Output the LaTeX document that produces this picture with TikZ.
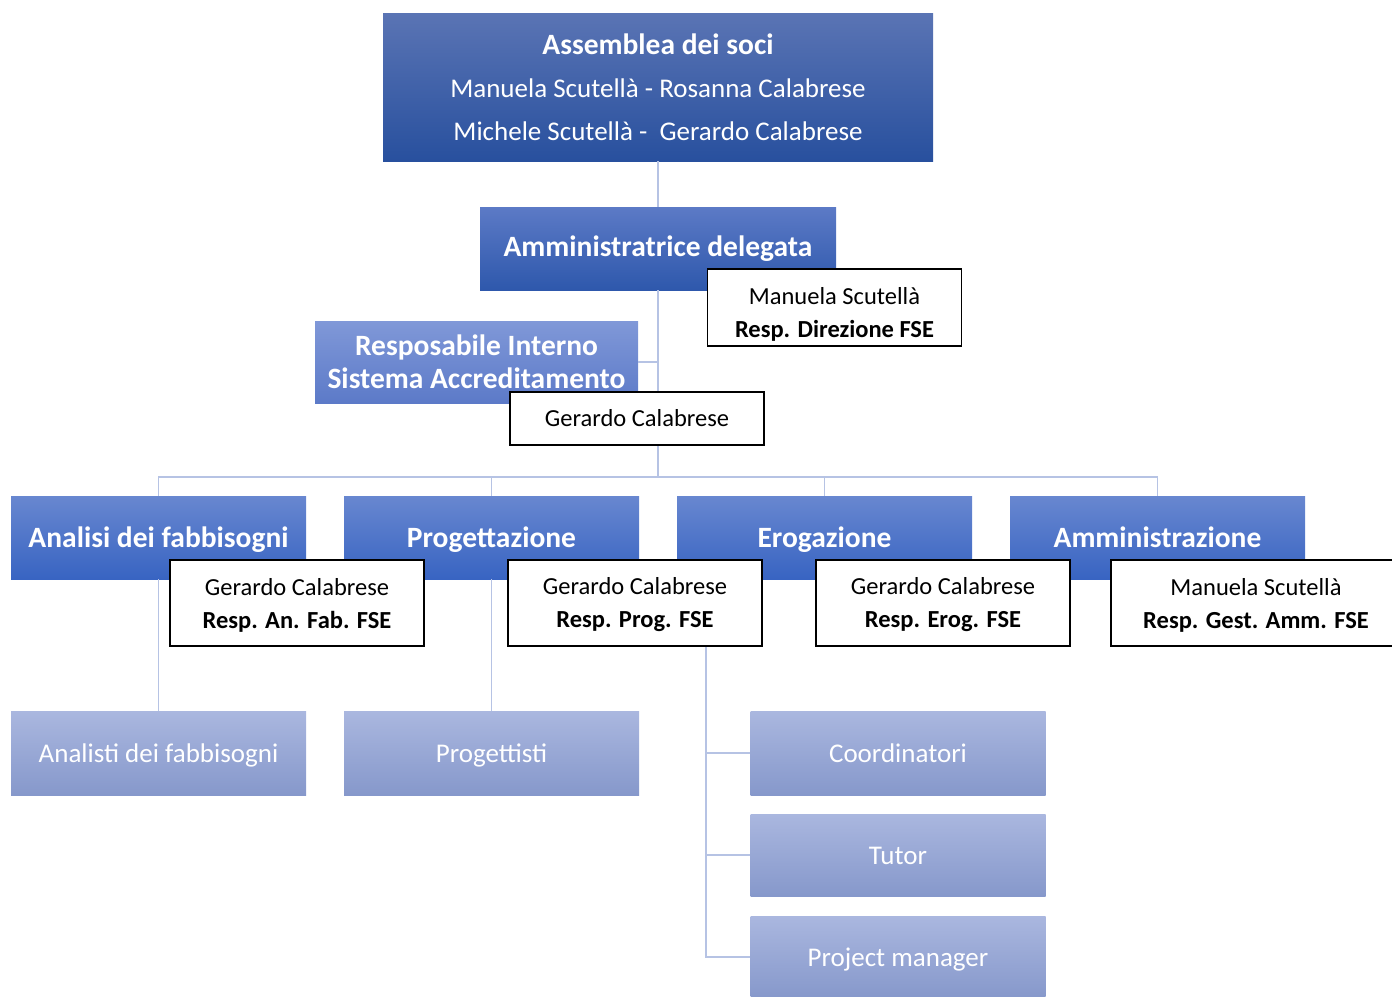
\documentclass[tikz,border=0pt]{standalone}
\usepackage{fontspec}
\setmainfont{Carlito}
\definecolor{lineC}{RGB}{182,195,228}
\definecolor{topT}{RGB}{90,116,180}
\definecolor{topB}{RGB}{40,80,158}
\definecolor{admT}{RGB}{92,122,198}
\definecolor{admB}{RGB}{46,88,172}
\definecolor{resT}{RGB}{128,152,216}
\definecolor{resB}{RGB}{92,122,200}
\definecolor{lvT}{RGB}{104,135,208}
\definecolor{lvB}{RGB}{56,100,194}
\definecolor{lowT}{RGB}{170,183,223}
\definecolor{lowB}{RGB}{134,152,203}
\tikzset{
  conn/.style={draw=lineC, line width=1.5pt},
  bluebox/.style={rectangle, inner sep=0pt, text=white, align=center},
  topbox/.style={bluebox, top color=topT, bottom color=topB, minimum width=550pt, minimum height=148pt,
     font=\fontsize{27}{43}\selectfont},
  admbox/.style={bluebox, top color=admT, bottom color=admB, minimum width=356pt, minimum height=83pt,
     font=\fontsize{29.5}{33}\selectfont\bfseries},
  resbox/.style={bluebox, top color=resT, bottom color=resB, minimum width=323pt, minimum height=82pt,
     font=\fontsize{29.5}{33}\selectfont\bfseries},
  lvbox/.style={bluebox, top color=lvT, bottom color=lvB, minimum width=295pt, minimum height=83pt,
     font=\fontsize{29.5}{33}\selectfont\bfseries, text height=24pt, text depth=4pt},
  lowbox/.style={bluebox, top color=lowT, bottom color=lowB, minimum width=295pt, minimum height=84pt,
     font=\fontsize{27}{33}\selectfont, text height=22pt, text depth=3pt},
  whitebox/.style={rectangle, draw=black, line width=1.3pt, fill=white, inner sep=0pt, align=center,
     minimum width=254pt, minimum height=86pt, font=\fontsize{24.5}{33}\selectfont},
}
\begin{document}
\begin{tikzpicture}[x=1pt,y=-1pt]
\useasboundingbox (0,0) rectangle (1392,996);
\clip (0,0) rectangle (1392,996);
\node[topbox] (soci) at (658,87) {{\fontsize{29.5}{43}\selectfont\bfseries Assemblea dei soci}\\Manuela Scutellà - Rosanna Calabrese\\Michele Scutellà -\ \ Gerardo Calabrese};
\coordinate (bus) at (658,477);
\coordinate (resjoin) at (658,362);
\draw[conn] (soci.south) -- (bus);
\node[admbox] (amm) at (658,248.5) {Amministratrice delegata};
\node[resbox] (res) at (476.5,362) {Resposabile Interno\\Sistema Accreditamento};
\node[lvbox] (an) at (158.5,537.5) {Analisi dei fabbisogni};
\node[lvbox] (prog) at (491.5,537.5) {Progettazione};
\node[lvbox] (ero) at (824.5,537.5) {Erogazione};
\node[lvbox] (adm) at (1157.5,537.5) {Amministrazione};
\node[lowbox] (analisti) at (158.5,753) {Analisti dei fabbisogni};
\node[lowbox] (progettisti) at (491.5,753) {Progettisti};
\node[lowbox] (coord) at (898,753) {Coordinatori};
\node[lowbox, minimum height=82pt] (tutor) at (898,855) {Tutor};
\node[lowbox, minimum height=82pt] (pm) at (898,957) {Project manager};
\coordinate (erobase) at ([xshift=29pt]ero.south west);
\draw[conn] (res.east) -- (resjoin);
\draw[conn] (amm.south) -- (bus);
\draw[conn] (bus) -| (an.north);
\draw[conn] (bus) -| (prog.north);
\draw[conn] (bus) -| (ero.north);
\draw[conn] (bus) -| (adm.north);
\draw[conn] (an.south) -- (analisti.north);
\draw[conn] (prog.south) -- (progettisti.north);
\draw[conn] (erobase) |- (coord.west);
\draw[conn] (erobase) |- (tutor.west);
\draw[conn] (erobase) |- (pm.west);
\node[whitebox, minimum height=77pt] (dirfse) at (834.5,307.5) {\rule{0pt}{30pt}Manuela Scutellà\\\textbf{Resp. Direzione FSE}};
\node[whitebox, minimum height=53pt] (gerres) at (637,418.5) {Gerardo Calabrese};
\node[whitebox] (anfse) at (297,603) {\rule{0pt}{21pt}Gerardo Calabrese\\\textbf{Resp. An. Fab. FSE}};
\node[whitebox] (progfse) at (635,603) {\rule{0pt}{21pt}Gerardo Calabrese\\\textbf{Resp. Prog. FSE}};
\node[whitebox] (erofse) at (943,603) {\rule{0pt}{21pt}Gerardo Calabrese\\\textbf{Resp. Erog. FSE}};
\node[whitebox, minimum width=290pt] (ammfse) at (1256,603) {\rule{0pt}{21pt}Manuela Scutellà\\\textbf{Resp. Gest. Amm. FSE}};
\end{tikzpicture}
\end{document}
